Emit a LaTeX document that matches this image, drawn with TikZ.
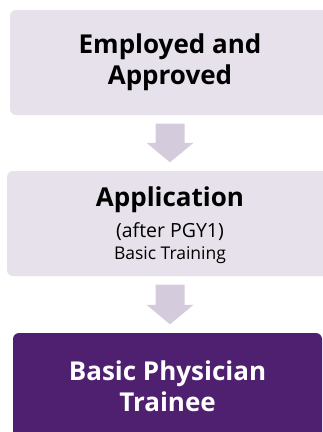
\documentclass[tikz,border=0pt]{standalone}
\usepackage{fontspec}
\setmainfont{Open Sans}
\usetikzlibrary{calc}
\definecolor{boxlight}{RGB}{230,225,234}
\definecolor{arrowlight}{RGB}{212,203,220}
\definecolor{boxpurple}{RGB}{79,31,112}
\tikzset{
    stepbox/.style={rectangle, rounded corners=6pt, inner sep=0pt, align=center, fill=boxlight, text=black},
    finalbox/.style={stepbox, fill=boxpurple, text=white},
    bigtext/.style={font=\bfseries\fontsize{26}{31}\selectfont},
    smalltext/.style={font=\fontsize{17}{29}\selectfont},
    flowarrow/.style={fill=arrowlight}
}
\begin{document}
\begin{tikzpicture}[x=1pt,y=1pt]
        % Page frame
        \path[use as bounding box] (0,0) rectangle (323,-432);
        \clip (0,0) rectangle (323,-432);
        % Draw boxes
        \node[stepbox, bigtext, minimum width=320pt, minimum height=105pt] (employed) at (170,-62.5) {Employed and\\Approved};
        \node[stepbox, smalltext, minimum width=326pt, minimum height=105pt, text depth=0pt] (application) at (170,-223.5)
            {{\bfseries\fontsize{26}{29}\selectfont Application}\\[2pt]
             {\fontsize{19.5}{29}\selectfont (after PGY1)}\\[-7pt]
             {\fontsize{17.5}{29}\selectfont Basic Training}};
        \node[finalbox, bigtext, minimum width=309pt, minimum height=107pt] (trainee) at (167.5,-386.5) {Basic Physician\\Trainee};
        % Draw arrows
        \foreach \from/\to in {employed/application, application/trainee} {
            \coordinate (top) at ($(\from.south)+(0,-8.5)$);
            \coordinate (tip) at ($(top |- \to.north)+(0,8.5)$);
            \fill[flowarrow] ($(top)+(-14.5,0)$) -- ($(top)+(14.5,0)$) -- ($(tip)+(14.5,19.5)$)
                -- ($(tip)+(23.5,19.5)$) -- (tip) -- ($(tip)+(-23.5,19.5)$) -- ($(tip)+(-14.5,19.5)$) -- cycle;
        }
    \end{tikzpicture}
\end{document}
